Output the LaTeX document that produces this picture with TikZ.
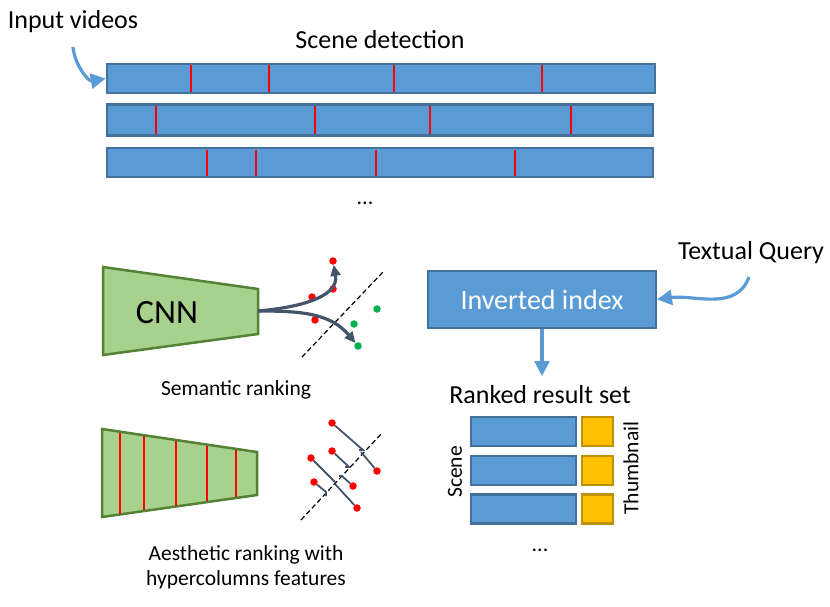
\documentclass[tikz,border=0pt]{standalone}
\usepackage{fontspec}
\setmainfont{Carlito}
\usetikzlibrary{arrows.meta,calc}
\definecolor{bfill}{HTML}{5B9BD5}
\definecolor{bdraw}{HTML}{41719C}
\definecolor{gfill}{HTML}{A9D18E}
\definecolor{gdraw}{HTML}{548235}
\definecolor{ofill}{HTML}{FFC000}
\definecolor{odraw}{HTML}{BF9000}
\definecolor{slate}{HTML}{44546A}
\definecolor{dgreen}{HTML}{00B050}
\tikzset{
  fs/.style={font=\fontsize{#1}{#1}\selectfont},
  bar/.style={rectangle,draw=bdraw,fill=bfill,line width=2.5pt,inner sep=0pt},
  obox/.style={rectangle,draw=odraw,fill=ofill,line width=2.5pt,inner sep=0pt,minimum width=31pt,minimum height=29pt},
  rbox/.style={bar,minimum width=105pt,minimum height=29pt},
  cut/.style={draw=red,line width=1.5pt},
  reddot/.style={circle,fill=red,inner sep=0pt,minimum size=7.5pt},
  grdot/.style={circle,fill=dgreen,inner sep=0pt,minimum size=7.5pt},
  barrow/.style={draw=bfill,line width=3.2pt,-{Triangle[length=15pt,width=15pt]}},
  sarrow/.style={draw=slate,line width=3.2pt,-{Triangle[length=11pt,width=10pt]}},
  proj/.style={draw=slate,line width=1.8pt},
  sep/.style={draw=black,line width=1.2pt,dash pattern=on 5pt off 3pt},
  trap/.style={draw=gdraw,fill=gfill,line width=2.5pt},
  lbl/.style={inner sep=0pt,text=black}
}
\begin{document}
\begin{tikzpicture}[x=1pt,y=-1pt]
\useasboundingbox (0,0) rectangle (830,606);

% labels top
\node[lbl,fs=26] (iv) at (73,22) {Input videos};
\node[lbl,fs=26] (sd) at (380,40) {Scene detection};

% video bars
\node[bar,minimum width=548pt,minimum height=29pt] (v1) at (381,78.5) {};
\node[bar,minimum width=546pt,minimum height=31pt] (v2) at (380,120) {};
\node[bar,minimum width=546pt,minimum height=29pt] (v3) at (380,162.5) {};
\foreach \x in {191,269,394,542} \draw[cut] (\x,65) -- (\x,92);
\foreach \x in {156,315,430,571} \draw[cut] (\x,106) -- (\x,134);
\foreach \x in {207,256,376,515} \draw[cut] (\x,149.5) -- (\x,175.5);
\node[lbl,fs=22] (dots1) at (365,203) {...};

\coordinate (ivs) at (73,47);
\draw[barrow] (ivs) to[out=-85,in=190] (v1.west);

% CNN trapezoid
\draw[trap] (103,267) -- (258,289) -- (258,334) -- (103,355) -- cycle;
\node[lbl,fs=34] (cnn) at (167,313) {CNN};
\coordinate (cnnout) at (258,311);

% semantic dots
\draw[sep] (302,357) -- (383,272);
\node[reddot] (r1) at (333,261) {};
\node[reddot] (r2) at (312,297) {};
\node[reddot] (r3) at (333,289) {};
\node[reddot] (r4) at (315,320) {};
\node[grdot] (g1) at (377,309) {};
\node[grdot] (g2) at (354,324) {};
\node[grdot] (g3) at (358,346) {};
\draw[sarrow] (cnnout) to[out=5,in=-80] (r1);
\draw[sarrow] (cnnout) to[out=0,in=130] (g3);
\node[lbl,fs=21.5] (sem) at (236,390) {Semantic ranking};

% hypercolumn trapezoid
\draw[trap] (102,429) -- (257,452) -- (257,495) -- (102,517) -- cycle;
\draw[cut] (120,432.5) -- (120,513.5);
\draw[cut] (144,436) -- (144,510);
\draw[cut] (176,441) -- (176,505.5);
\draw[cut] (207,445.5) -- (207,501);
\draw[cut] (236,449.5) -- (236,497);

% aesthetic projections
\draw[sep] (301,520) -- (382,433);
\node[reddot] (a1) at (332,423) {};
\node[reddot] (a2) at (377,471) {};
\node[reddot] (a3) at (332,451) {};
\node[reddot] (a4) at (353,486) {};
\node[reddot] (a5) at (311,458) {};
\node[reddot] (a6) at (357,508) {};
\node[reddot] (a7) at (314,482) {};
\draw[proj] (a1) -- (363,450) -- (359,450);
\draw[proj] (a2) -- (361,452);
\draw[proj] (a3) -- (349,467) -- (345,467);
\draw[proj] (a4) -- (342,476) -- (339,476);
\draw[proj] (a5) -- (335,482);
\draw[proj] (a6) -- (335,484);
\draw[proj] (a7) -- (326,492) -- (326,496);
\node[lbl,font=\fontsize{21.5}{25}\selectfont,align=center] (aes) at (246,567) {Aesthetic ranking with\\hypercolumns features};

% inverted index
\node[bar,line width=2pt,minimum width=228pt,minimum height=57pt,text=white,fs=28] (inv) at (542,299.5) {Inverted index};
\node[lbl,fs=26] (tq) at (751,253) {Textual Query};
\coordinate (tqs) at (749,277);
\draw[barrow] (tqs) to[out=-110,in=8] (inv.east);
\coordinate (rsin) at (542,376);
\draw[barrow] (inv.south) -- (rsin);

% ranked result set
\node[lbl,fs=26] (rrs) at (540,395) {Ranked result set};
\node[rbox] (s1) at (523.5,431.5) {};
\node[rbox] (s2) at (523.5,470.5) {};
\node[rbox] (s3) at (523.5,509) {};
\node[obox] (t1) at (597.5,431.5) {};
\node[obox] (t2) at (597.5,470.5) {};
\node[obox] (t3) at (597.5,509) {};
\node[lbl,fs=21.5,rotate=90] (scn) at (455,472) {Scene};
\node[lbl,fs=21.5,rotate=90] (thn) at (631,468) {Thumbnail};
\node[lbl,fs=22] (dots2) at (540,550) {...};
\end{tikzpicture}
\end{document}
